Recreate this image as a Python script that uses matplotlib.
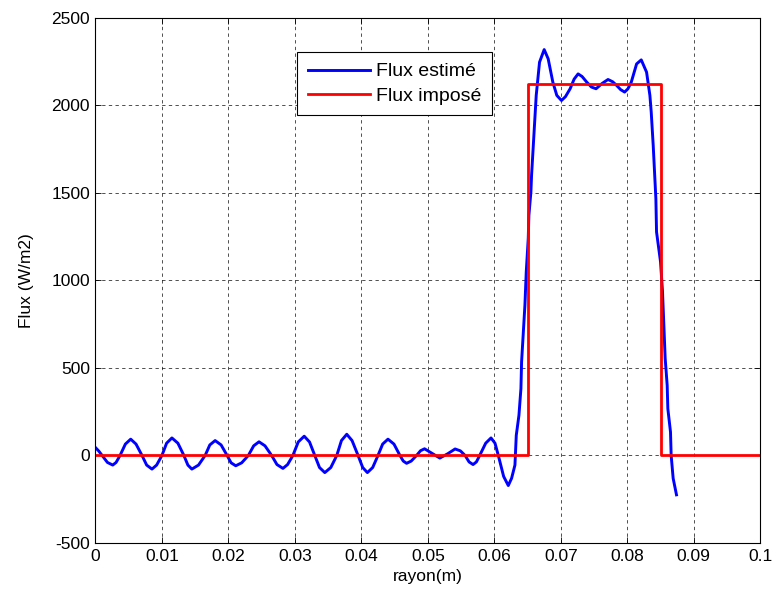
import numpy as np
import matplotlib
matplotlib.use("Agg")
import matplotlib.pyplot as plt

# estimated flux
r_est = [0.0000, 0.0005, 0.0010, 0.0018, 0.0026, 0.0031, 0.0037, 0.0045,
         0.0053, 0.0061, 0.0070, 0.0077, 0.0085, 0.0092, 0.0100, 0.0107,
         0.0115, 0.0124, 0.0133, 0.0139, 0.0145, 0.0155, 0.0165, 0.0172,
         0.0180, 0.0189, 0.0198, 0.0204, 0.0211, 0.0220, 0.0230, 0.0238,
         0.0246, 0.0255, 0.0265, 0.0273, 0.0282, 0.0289, 0.0297, 0.0305,
         0.0314, 0.0322, 0.0330, 0.0337, 0.0345, 0.0354, 0.0363, 0.0370,
         0.0378, 0.0386, 0.0395, 0.0402, 0.0409, 0.0417, 0.0425, 0.0432,
         0.0440, 0.0449, 0.0458, 0.0463, 0.0468, 0.0475, 0.0483, 0.0489,
         0.0495, 0.0507, 0.0518, 0.0530, 0.0541, 0.0549, 0.0556, 0.0562,
         0.0568, 0.0573, 0.0578, 0.0587, 0.0595, 0.0601, 0.0606, 0.0614,
         0.0621, 0.0626, 0.0631, 0.0633, 0.0637, 0.0640, 0.0641, 0.0643,
         0.0646, 0.0648, 0.0651, 0.0652, 0.0655, 0.0656, 0.0658, 0.0663,
         0.0668, 0.0675, 0.0681, 0.0688, 0.0694, 0.0701, 0.0707, 0.0714,
         0.0720, 0.0726, 0.0732, 0.0739, 0.0746, 0.0753, 0.0762, 0.0771,
         0.0778, 0.0784, 0.0790, 0.0796, 0.0801, 0.0806, 0.0814, 0.0821,
         0.0829, 0.0834, 0.0836, 0.0839, 0.0841, 0.0843, 0.0844, 0.0850,
         0.0853, 0.0855, 0.0857, 0.0860, 0.0861, 0.0865, 0.0866, 0.0869,
         0.0874]
flux_est = [45, 25, 0, -40, -55, -40, 0, 65,
            93, 65, 0, -55, -78, -55, 0, 70,
            100, 70, 0, -55, -78, -55, 0, 60,
            85, 60, 0, -42, -59, -42, 0, 55,
            78, 55, 0, -52, -74, -52, 0, 77,
            110, 77, 0, -69, -98, -69, 0, 85,
            121, 85, 0, -69, -98, -69, 0, 65,
            93, 65, 0, -32, -45, -32, 0, 27,
            38, 10, -15, 10, 37, 26, 0, -37,
            -52, -37, 0, 70, 100, 70, 0, -120,
            -172, -130, -55, 115, 229, 382, 535, 668,
            858, 1048, 1239, 1372, 1505, 1600, 1733, 2057,
            2247, 2319, 2266, 2133, 2057, 2028, 2050, 2095,
            2150, 2180, 2165, 2133, 2105, 2095, 2125, 2148,
            2135, 2114, 2090, 2076, 2095, 2133, 2237, 2260,
            2190, 2057, 1962, 1771, 1619, 1467, 1277, 1106,
            934, 744, 554, 401, 267, 134, 0, -131,
            -225]

# imposed flux (step)
r_imp = [0.0, 0.065, 0.065, 0.085, 0.085, 0.1]
flux_imp = [0, 0, 2120, 2120, 0, 0]

xticks = np.arange(0, 0.1001, 0.01)
xlabels = ["0", "0.01", "0.02", "0.03", "0.04", "0.05", "0.06", "0.07", "0.08", "0.09", "0.1"]
yticks = [-500, 0, 500, 1000, 1500, 2000, 2500]

plt.rcParams['font.family'] = ['Liberation Sans', 'DejaVu Sans']
plt.rcParams['font.size'] = 12.5
plt.rcParams['axes.unicode_minus'] = False

fig = plt.figure(figsize=(7.73, 5.96), dpi=100)
ax = fig.add_axes([0.1235, 0.089, 0.860, 0.881])

ax.plot(r_est, flux_est, color='#0000ff', lw=2.1, label='Flux estimé')
ax.plot(r_imp, flux_imp, color='#ff0000', lw=2.0, label='Flux imposé')

ax.set_xlim(0, 0.1)
ax.set_ylim(-500, 2500)
ax.set_xticks(xticks)
ax.set_xticklabels(xlabels)
ax.set_yticks(yticks)
ax.tick_params(direction='in', top=True, right=True, length=4, width=0.6, pad=4)
for s in ax.spines.values():
    s.set_linewidth(0.8)
ax.grid(True, color='k', linestyle=(0, (4, 4)), lw=0.6, alpha=0.8)

ax.set_xlabel('rayon(m)', labelpad=4)
ax.set_ylabel('Flux (W/m2)', labelpad=12)

leg = ax.legend(loc='upper left', bbox_to_anchor=(0.303, 0.935), borderaxespad=0,
                fancybox=False, edgecolor='k', framealpha=1, handlelength=3.2,
                handletextpad=0.3, fontsize=14, borderpad=0.55, labelspacing=0.35)
leg.get_frame().set_linewidth(0.8)

fig.savefig('out.png', dpi=100)
